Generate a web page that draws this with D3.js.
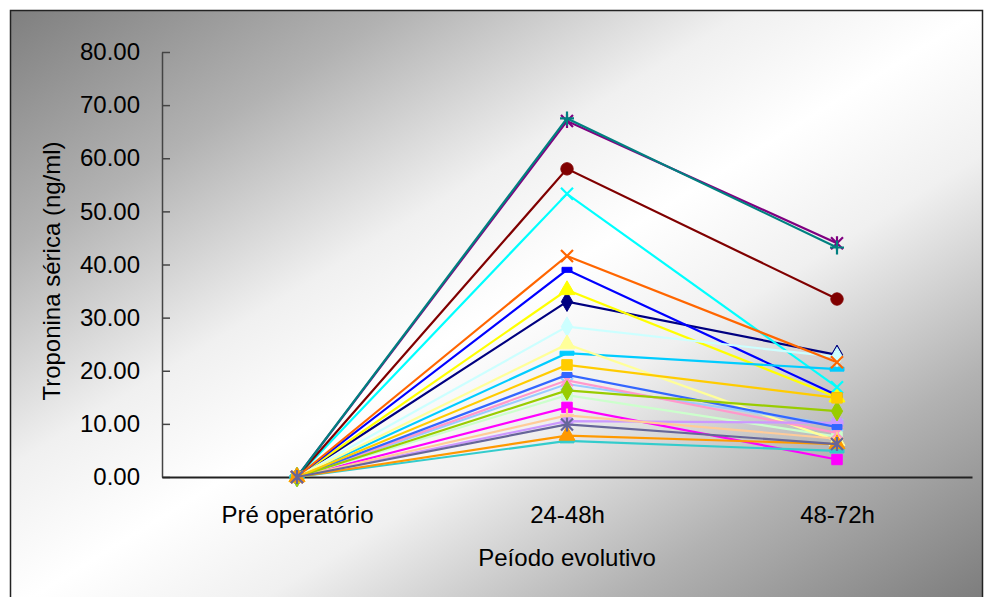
<!DOCTYPE html>
<html lang="pt">
<head>
<meta charset="utf-8">
<title>Troponina sérica</title>
<script src="https://d3js.org/d3.v7.min.js"></script>
<style>
  body { margin: 0; background: #fff; }
  svg text { font-family: "Liberation Sans", Arial, sans-serif; fill: #000; }
</style>
</head>
<body>
<script>
// categories and tick labels
const periods = ["Pré operatório", "24-48h", "48-72h"];
const yTicks = [0, 10, 20, 30, 40, 50, 60, 70, 80];

// one entry per patient (ng/ml)
const colors = ["#000080", "#FF00FF", "#FFFF00", "#00FFFF", "#800080", "#800000", "#008080", "#0000FF",
  "#00CCFF", "#CCFFFF", "#CCFFCC", "#FFFF99", "#99CCFF", "#FF99CC", "#CC99FF", "#FFCC99",
  "#3366FF", "#33CCCC", "#99CC00", "#FFCC00", "#FF9900", "#FF6600", "#666699"];
const markers = ["diamond", "square", "triangle", "x", "star", "circle", "plus", "dash",
  "longdash", "diamond", "square", "triangle", "x", "star", "circle", "plus",
  "dash", "longdash", "diamond", "square", "triangle", "x", "star"];
const preOp = [0, 0, 0, 0, 0, 0, 0, 0, 0, 0, 0, 0, 0, 0, 0, 0, 0, 0, 0, 0, 0, 0, 0];
const h24 = [33.0, 13.1, 35.2, 53.3, 67.0, 58.0, 67.5, 39.0, 23.3, 28.3, 15.4, 25.0, 17.5, 18.2, 10.5, 11.6,
  19.2, 6.8, 16.3, 21.1, 7.8, 41.6, 9.9];
const h48 = [23.0, 3.3, 15.0, 16.9, 44.0, 33.5, 43.2, 15.4, 20.3, 22.6, 7.6, 6.8, 9.8, 8.3, 10.2, 7.2,
  9.4, 4.9, 12.4, 14.9, 6.2, 21.6, 6.2];

const w = 984, h = 597;
const plot = { left: 162, right: 972, top: 52, bottom: 477 };
const fontSize = 24;

const svg = d3.select("body").append("svg")
  .attr("width", w)
  .attr("height", h);

// diagonal grey-white-grey fill of the chart area
const grad = svg.append("defs").append("linearGradient")
  .attr("id", "bg")
  .attr("x1", 0).attr("y1", 0).attr("x2", 1).attr("y2", 1);
[[0, "#7f7f7f"], [0.2, "#b2b2b2"], [0.38, "#f0f0f0"], [0.5, "#ffffff"], [0.62, "#f0f0f0"], [0.8, "#b2b2b2"], [1, "#7a7a7a"]]
  .forEach(s => grad.append("stop").attr("offset", s[0]).attr("stop-color", s[1]));

svg.append("rect")
  .attr("x", 10.5).attr("y", 10.5)
  .attr("width", 972).attr("height", 600)
  .attr("fill", "url(#bg)")
  .attr("stroke", "#222")
  .attr("stroke-width", 1.5);

// scales
const xScale = d3.scalePoint()
  .domain(periods)
  .range([plot.left, plot.right])
  .padding(0.5);

const yScale = d3.scaleLinear()
  .domain([0, 80])
  .range([plot.bottom, plot.top]);

// y axis, ticks pointing into the plot
const leftAxis = d3.axisLeft(yScale)
  .tickValues(yTicks)
  .tickSizeInner(-8)
  .tickSizeOuter(0)
  .tickPadding(22)
  .tickFormat(d3.format(".2f"));

const gy = svg.append("g")
  .attr("transform", "translate(" + plot.left + ",0)")
  .call(leftAxis);
gy.select(".domain").attr("stroke", "#444").attr("stroke-width", 1.5);
gy.selectAll(".tick line").attr("stroke", "#444").attr("stroke-width", 1.5);
gy.selectAll(".tick text").attr("font-size", fontSize).attr("x", -22);

// x axis, labels only
const bottomAxis = d3.axisBottom(xScale)
  .tickSize(0)
  .tickPadding(29);

const gx = svg.append("g")
  .attr("transform", "translate(0," + plot.bottom + ")")
  .call(bottomAxis);
gx.select(".domain").attr("stroke", "#222").attr("stroke-width", 2);
gx.selectAll(".tick text").attr("font-size", fontSize);

// axis titles
svg.append("text")
  .attr("x", xScale("24-48h"))
  .attr("y", 566)
  .attr("text-anchor", "middle")
  .attr("font-size", fontSize)
  .text("Peíodo evolutivo");

svg.append("text")
  .attr("transform", "translate(60,271) rotate(-90)")
  .attr("text-anchor", "middle")
  .attr("font-size", fontSize)
  .text("Troponina sérica (ng/ml)");

// marker paths
function markerPath(type) {
  if (type == "diamond") return d3.symbol(d3.symbolDiamond, 110)();
  if (type == "square") return d3.symbol(d3.symbolSquare, 110)();
  if (type == "triangle") return d3.symbol(d3.symbolTriangle, 110)();
  if (type == "circle") return d3.symbol(d3.symbolCircle, 120)();
  if (type == "x") return "M-6,-6L6,6M-6,6L6,-6";
  if (type == "star") return "M-6,-6L6,6M-6,6L6,-6M0,-7L0,7";
  if (type == "plus") return "M-7,0H7M0,-7V7";
  if (type == "dash") return "M-5,-2.5H5V2.5H-5Z";
  return "M-7,-2H7V2H-7Z";
}

const series = colors.map((c, i) => ({
  color: c,
  marker: markers[i],
  values: [preOp[i], h24[i], h48[i]]
}));

const line = d3.line()
  .x((d, j) => xScale(periods[j]))
  .y(d => yScale(d));

const groups = svg.selectAll(".serie")
  .data(series)
  .join("g")
  .attr("class", "serie");

groups.append("path")
  .attr("d", d => line(d.values))
  .attr("fill", "none")
  .attr("stroke", d => d.color)
  .attr("stroke-width", 2.2);

groups.selectAll(".mk")
  .data(d => d.values.map((v, j) => ({ v: v, j: j, color: d.color, marker: d.marker })))
  .join("path")
  .attr("class", "mk")
  .attr("transform", d => "translate(" + xScale(periods[d.j]) + "," + yScale(d.v) + ")")
  .attr("d", d => markerPath(d.marker))
  .attr("fill", d => ["x", "star", "plus"].includes(d.marker) ? "none" : d.color)
  .attr("stroke", d => d.color)
  .attr("stroke-width", d => ["x", "star", "plus"].includes(d.marker) ? 2.2 : 1);
</script>
</body>
</html>
